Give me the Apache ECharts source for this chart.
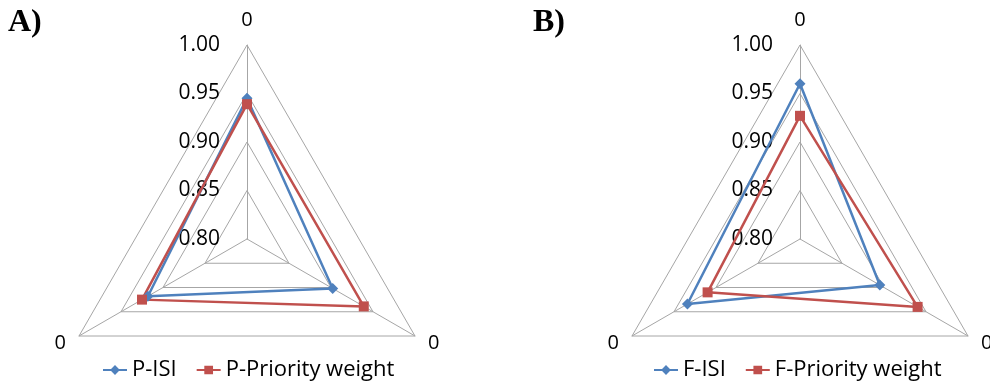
<!DOCTYPE html>
<html>
<head>
<meta charset="utf-8">
<script src="https://cdn.jsdelivr.net/npm/echarts@6/dist/echarts.min.js"></script>
<style>
  html, body { margin: 0; padding: 0; background: #fff; }
  #chart { width: 990px; height: 387px; }
</style>
</head>
<body>
<div id="chart"></div>
<script>
// Axis names (one per corner, ordered top, lower-left, lower-right)
const axisNames = ['0', '0', '0'];
const axisMin = 0.80;
const axisMax = 1.00;

// Panel A: P indices
const pIsi = [0.945, 0.918, 0.902];
const pPriority = [0.939, 0.925, 0.939];

// Panel B: F indices
const fIsi = [0.960, 0.934, 0.895];
const fPriority = [0.927, 0.910, 0.940];

const seriesNamesA = ['P-ISI', 'P-Priority weight'];
const seriesNamesB = ['F-ISI', 'F-Priority weight'];

const BLUE = '#4F81BD';
const RED = '#C0504D';
const GRID = '#a6a6a6';
const FONT = 'Open Sans';

// Legend icons: a short line with the series marker in the middle
const ICON_DIAMOND = 'path://M0,4 L22,4 L22,6 L0,6 Z M11,0.5 L15.5,5 L11,9.5 L6.5,5 Z';
const ICON_SQUARE = 'path://M0,4 L22,4 L22,6 L0,6 Z M7,1 L15,1 L15,9 L7,9 Z';

function indicators() {
  return axisNames.map((n, i) => {
    const ind = { name: n, min: axisMin, max: axisMax };
    if (i === 0) {
      // Value labels only along the vertical axis
      ind.axisLabel = {
        show: true,
        margin: 27,
        color: '#000',
        fontFamily: FONT,
        fontSize: 21,
        formatter: v => Number(v).toFixed(2)
      };
    }
    return ind;
  });
}

function radar(cx) {
  return {
    center: [cx, 239],
    radius: 194,
    shape: 'polygon',
    startAngle: 90,
    splitNumber: 4,
    indicator: indicators(),
    axisName: { color: '#000', fontFamily: FONT, fontSize: 20 },
    nameGap: 15,
    axisLine: { lineStyle: { color: GRID, width: 1 } },
    splitLine: { lineStyle: { color: GRID, width: 1 } },
    splitArea: { show: false },
    axisTick: { show: false },
    axisLabel: { show: false }
  };
}

function radarSeries(idx, name, values, color, symbol) {
  return {
    type: 'radar',
    radarIndex: idx,
    name: name,
    symbol: symbol,
    symbolSize: symbol === 'diamond' ? 11 : 10,
    lineStyle: { color: color, width: 2.5 },
    itemStyle: { color: color },
    data: [{ value: values, name: name }]
  };
}

function legend(left, names) {
  return {
    left: left,
    top: 354,
    itemWidth: 24,
    itemHeight: 10,
    itemGap: 20,
    textStyle: { color: '#000', fontFamily: FONT, fontSize: 22 },
    data: [
      { name: names[0], icon: ICON_DIAMOND },
      { name: names[1], icon: ICON_SQUARE }
    ]
  };
}

const titleStyle = { fontFamily: 'Liberation Serif', fontWeight: 'bold', fontSize: 32, color: '#000' };

const chart = echarts.init(document.getElementById('chart'), null, { renderer: 'canvas' });
chart.setOption({
  backgroundColor: '#fff',
  animation: false,
  title: [
    { text: 'A)', left: 3, top: 2, textStyle: titleStyle },
    { text: 'B)', left: 528, top: 2, textStyle: titleStyle }
  ],
  legend: [legend(98, seriesNamesA), legend(649, seriesNamesB)],
  radar: [radar(247), radar(800)],
  series: [
    radarSeries(0, seriesNamesA[0], pIsi, BLUE, 'diamond'),
    radarSeries(0, seriesNamesA[1], pPriority, RED, 'rect'),
    radarSeries(1, seriesNamesB[0], fIsi, BLUE, 'diamond'),
    radarSeries(1, seriesNamesB[1], fPriority, RED, 'rect')
  ]
});
</script>
</body>
</html>
